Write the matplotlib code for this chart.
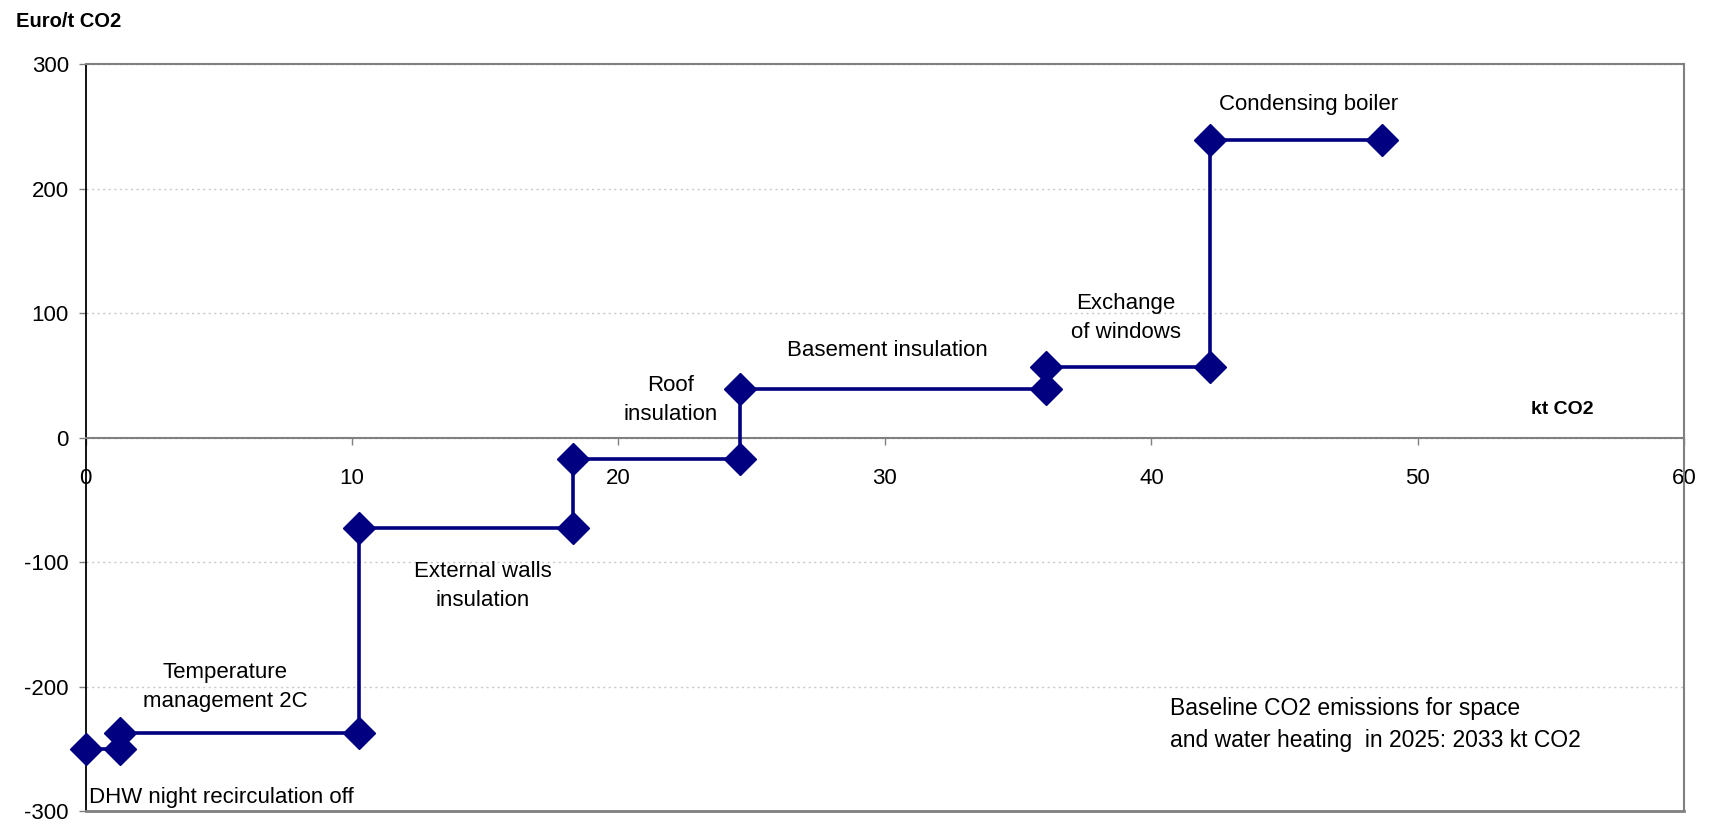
import matplotlib
matplotlib.use("Agg")
import matplotlib.pyplot as plt

plt.rcParams['font.family'] = ['Liberation Sans', 'DejaVu Sans']
plt.rcParams['axes.unicode_minus'] = False

# cumulative abatement (kt CO2) and cost (Euro/t CO2), step by step
kt_co2 = [0, 1.3, 1.3, 10.25, 10.25, 18.3, 18.3, 24.55, 24.55, 36.05, 36.05, 42.2, 42.2, 48.65]
euro_per_t = [-250, -250, -237, -237, -72.5, -72.5, -17.5, -17.5, 39, 39, 57, 57, 239, 239]

# measure labels: (text, x, y, horizontal alignment)
measure_labels = ["Condensing boiler", "Exchange\nof windows", "Basement insulation",
                  "Roof\ninsulation", "External walls\ninsulation",
                  "Temperature\nmanagement 2C", "DHW night recirculation off"]
label_x = [45.9, 39.05, 30.1, 21.95, 14.9, 5.25, 0.15]
label_y = [267.5, 96, 70, 30, -119, -200, -289]
label_ha = ["center", "center", "center", "center", "center", "center", "left"]

x_ticks = [0, 10, 20, 30, 40, 50, 60]
y_ticks = [-300, -200, -100, 0, 100, 200, 300]
baseline_note = "Baseline CO2 emissions for space\nand water heating  in 2025: 2033 kt CO2"

navy = '#000080'
frame_grey = '#808080'

fig = plt.figure(figsize=(17.1, 8.25), dpi=100)
ax = fig.add_axes([0.05, 0.017, 0.935, 0.905])

ax.plot(kt_co2, euro_per_t, color=navy, linewidth=2.6, marker='D',
        markersize=16, markerfacecolor=navy, markeredgecolor=navy, zorder=5,
        clip_on=False)

ax.set_xlim(0, 60)
ax.set_ylim(-300, 300)
ax.set_xticks(x_ticks)
ax.set_yticks(y_ticks)

# horizontal dotted gridlines
ax.yaxis.grid(True, color='#C8C8C8', linestyle=(0, (1.5, 2.5)), linewidth=1)
ax.set_axisbelow(True)

# x axis runs through zero, y axis along the left edge
ax.spines['bottom'].set_position(('data', 0))
ax.spines['bottom'].set_color(frame_grey)
ax.spines['bottom'].set_linewidth(1.5)
ax.spines['left'].set_color('black')
ax.spines['left'].set_linewidth(1.3)
for side in ['top', 'right']:
    ax.spines[side].set_color(frame_grey)
    ax.spines[side].set_linewidth(1.5)
# bottom edge of the plot frame
ax.plot([0, 1], [0, 0], transform=ax.transAxes, color=frame_grey,
        linewidth=2, clip_on=False, zorder=4)

ax.tick_params(axis='x', direction='out', length=5, width=1, color=frame_grey,
               pad=17, labelsize=16)
ax.tick_params(axis='y', direction='out', length=5, width=1, color=frame_grey,
               pad=7, labelsize=16)

for txt, x, y, ha in zip(measure_labels, label_x, label_y, label_ha):
    ax.text(x, y, txt, ha=ha, va='center', fontsize=16, linespacing=1.5,
            color='black')

ax.text(40.7, -230.5, baseline_note, ha='left', va='center', fontsize=16.5,
        linespacing=1.5, color='black')

ax.text(55.4, 23, "kt CO2", ha='center', va='center', fontsize=14,
        fontweight='bold')
fig.text(16 / 1710, 1 - 21.7 / 825, "Euro/t CO2", ha='left', va='center',
         fontsize=14.5, fontweight='bold')

fig.savefig("out.png", dpi=100)
